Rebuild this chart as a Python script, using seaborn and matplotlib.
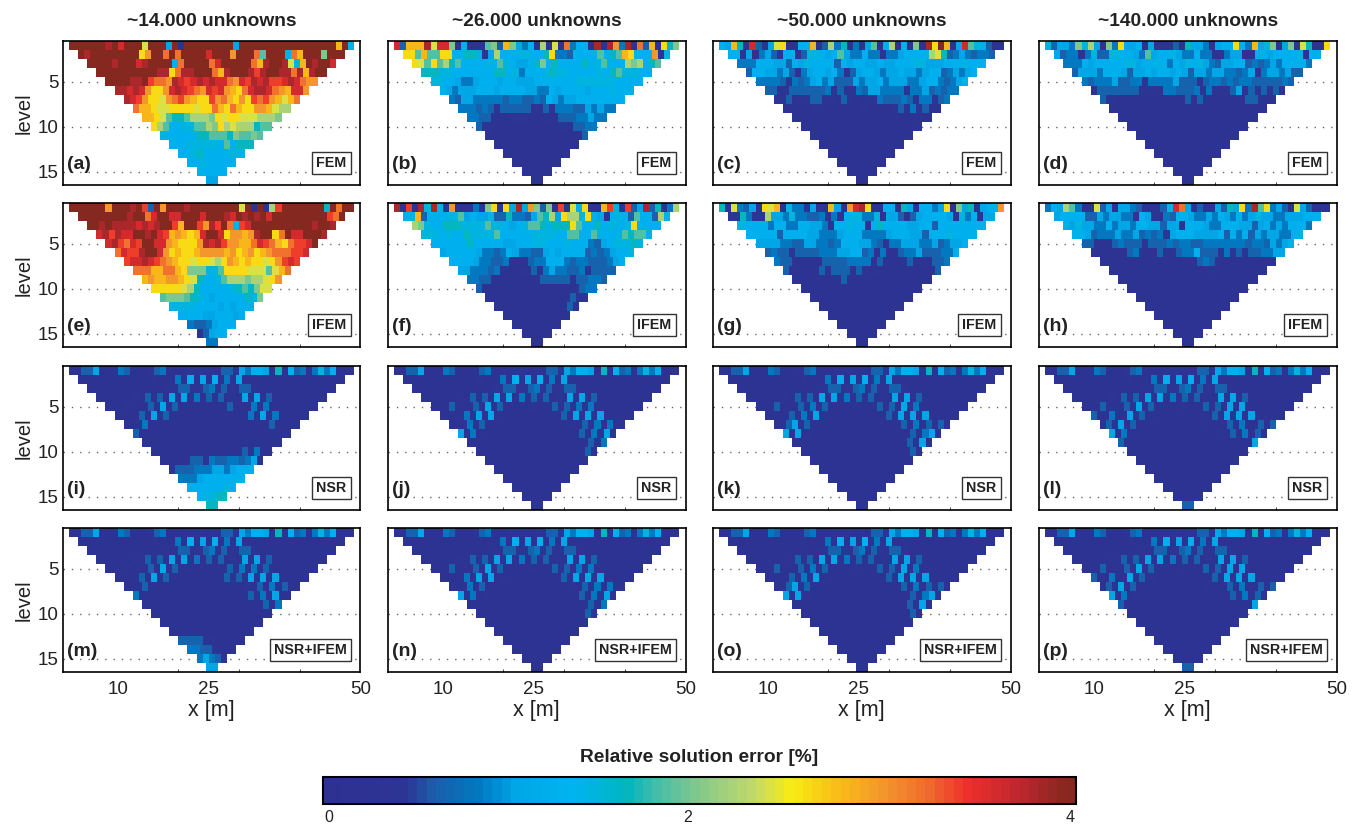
import numpy as np
import seaborn as sns
import matplotlib
matplotlib.use('Agg')
import matplotlib.pyplot as plt
from matplotlib.colors import LinearSegmentedColormap

# one character per cell, 0-9 then a-k, in steps of 0.2 % (5 = 1 %, a = 2 %, k = 4 %)
CODES = "0123456789abcdefghijk"

panel_a = [
    "kkkkkkjkikkkckkk5k1kkkkkkkk5kkkkkkkkkkkkkkkkek6",
    "kjkkkkkkkkdfkkgkgkkkkikkkfkkkg9kkk6gekkkakkk",
    "kkkkjkkkijkkkk6gkkkkgikkkkkgejkkjc7ekjkki",
    "kkkkkkkkkkjjdgjjkkkgejkkkjhjkkjjgjejkk",
    "kkkkjjkhggfjihijijiigfihjijhhijigff",
    "jjijifddfijihgfihifedgijjigfeiif",
    "jihfddcfghfeddhfgedfdhghfeceg",
    "geedccddddcddgedgeddffecbb",
    "eedc9889bbbadcddcccbbba",
    "db9667799badbcbbb899",
    "766666889998a99a9",
    "66677777696888",
    "66786666777",
    "66766666",
    "66666",
    "55",
]
panel_e = [
    "kkkkkkfkkkjkh3kfkkkjkkkkkkkkck1k1bhkkkkkkk8kgkk",
    "kkkkkkkkjkkgikkiikkkikkkjikjkjkikkkkkkkkkhgk",
    "kkjkjjjjijijkkhekkhfjhkg7hikkkkkkkkkkjkkj",
    "ijhjiikkjkihefedeikkidffefjkkdgkiikkkj",
    "ijhgihkkiifedddfjijhffeegihgedghhik",
    "gihhjkkifdeddeffffefdefdefggghhi",
    "hiijihgfeddcddcbdfededdcdfhih",
    "gggeeggedaaa779ddddccc9ceg",
    "efeeffedc86679bbbabbcdf",
    "dddddcb8666667898acc",
    "9aaa987656666687a",
    "77776666565666",
    "66665566656",
    "43345666",
    "23566",
    "44",
]
panel_i_low = [
    "11121113151311111111311141411111111",
    "11113151311111111111114151411111",
    "11141111111111111111111131111",
    "31111111111111111111111111",
    "11111111111111111111111",
    "11111111111111131411",
    "11111332433443451",
    "23334445545666",
    "44456666666",
    "66666676",
    "67788",
    "88",
]
panel_m_low = [
    "11121113151312111111314141311111111",
    "11113151311111111131315151511111",
    "11131111111111111111213141311",
    "41111111111111111113141511",
    "11111111111111111111314",
    "11111111111111111111",
    "11111111111111111",
    "11111111111111",
    "33332211111",
    "44332111",
    "45432",
    "55",
]
panel_b = [
    "i3eeejciia262219a3ea5461b2c1g4661j2jf4j1g3e1d8a",
    "dd9e99dd6688725b66677668d44366669689ed766f17",
    "dc9d9b896666769765568a6866668679666bab689",
    "88877666666688674666787766666768977766",
    "77665445666566555666666677777766666",
    "65455566656666554465666656667666",
    "43554444434433436545566666666",
    "44434323333322324443354544",
    "44331112221122133344544",
    "32211111111111213344",
    "21111111111111113",
    "11111111111111",
    "11111111111",
    "11111111",
    "11111",
    "11",
]
panel_f = [
    "j2h2j7j72f11142ad2d5j5fa3a1h2c6d21eh72h35j3814b",
    "67e366677956557338443598b5dbb7d65167639663b7",
    "ba766888777797765679986888d966867767d6666",
    "77767668777796666677776699669666698996",
    "66666686666655666776667666435677787",
    "56666654434654433565666634345667",
    "66665443341113446664344333456",
    "55444341112232454433423333",
    "44331111111233333233443",
    "31111111111111112344",
    "21111111111111322",
    "11111111111132",
    "11111111111",
    "11111111",
    "11111",
    "11",
]
panel_c = [
    "65e82i315cd1166e13b481415916b161a1jdke15i976311",
    "662514532662377656954464414456666bc834543443",
    "44466655365766663656655655666775556667666",
    "36655453245665642356654556554566345456",
    "44443243456453335455645554456643456",
    "33223333334232243554444244534344",
    "22312233221321122433343244234",
    "11111221111112111123142311",
    "11111111111111111111211",
    "11111111111111111111",
    "11111111111111111",
    "11111111111111",
    "11111111111",
    "11111111",
    "11111",
    "11",
]
panel_g = [
    "82c4351dce17441521e51fijd116618516645d1a581566f",
    "22842 2b554744334141677447155313566665174615".replace(" ", ""),
    "76666466446655426676626866665566366666666",
    "66666366665544456664444566655366676666",
    "55554433554434666554324455544534556",
    "34332333344455663414113445333446",
    "43321111333344442311123222334",
    "31111132333132121111111113",
    "11111111311111111111111",
    "11111111111111111111",
    "11111111111111111",
    "11111111111111",
    "11111111111",
    "11111111",
    "11111",
    "11",
]
panel_d = [
    "73554a7b51a4d556152123185541566d64e57a15a2c821d",
    "5344147337766549566754464412455116656666716",
    "44465666667756676465767543556634345466664",
    "35554666535565665653554554434524554533",
    "43444533442444453332344343443333343",
    "13333333222244333424222352323231",
    "31211111111111313111111133111",
    "11111111111111111111111111",
    "11111111111111111111111",
    "11111111111111111111",
    "11111111111111111",
    "11111111111111",
    "11111111111",
    "11111111",
    "11111",
    "11",
]
panel_h = [
    "465b9411c351554311137ig513115385d4j9d4531c53111",
    "5666633545544265214366544546546457554455 56".replace(" ", ""),
    "65755446455466553551666544666553564546664",
    "66534445445343425666555563646354554466",
    "33211343332333434433444444434435456",
    "21111134211312344633324231334455",
    "11111111111111113432111111111",
    "11111111111111111211111111",
    "11111111111111111111111",
    "11111111111111111111",
    "11111111111111111",
    "11111111111111",
    "11111111111",
    "11111111",
    "11111",
    "11",
]

# the first four levels look the same in all NSR panels
nsr_top = [
    "11335111431112341112221213325466518163414746111",
    "11111111111121114161516141511111111111111111",
    "11111111111112233223423223321111111111111",
    "11111121313151514131312151513111111111",
]
nsr_j = [
    "11131113151311112111313141411111111",
    "11114151512111111111315151511111",
    "11241311111111111111213141412",
    "51412111111111111111314152",
    "11111111111111111111314",
    "11111111111111111132",
    "11111111111111111",
    "11111111111111",
    "11111111111",
    "11111111",
    "11111",
]
nsr_k = [
    "11131113141311112111313151411111111",
    "11113141512111111111315151511111",
    "11351311111111111111131413131",
    "51512111111111111111131452",
    "11111111111111111113151",
    "11111111111111111131",
    "11111111111111111",
    "11111111111111",
    "11111111111",
    "11111111",
    "11111",
]
nsr_l = [
    "11131113151311112111313151511111111",
    "31141151312111111111315151511111",
    "13151311111111111211131411313",
    "51412111111111111121314131",
    "31111111111111111111115",
    "11111111111111111112",
    "11111111111111112",
    "11111111111111",
    "11111111111",
    "11111111",
    "11111",
]

panels = [
    panel_a, panel_b, panel_c, panel_d,
    panel_e, panel_f, panel_g, panel_h,
    nsr_top + panel_i_low, nsr_top + nsr_j + ["22"], nsr_top + nsr_k + ["22"], nsr_top + nsr_l + ["33"],
    nsr_top + panel_m_low, nsr_top + nsr_j + ["11"], nsr_top + nsr_k + ["22"], nsr_top + nsr_l + ["33"],
]
letters = "abcdefghijklmnop"
methods = ["FEM", "IFEM", "NSR", "NSR+IFEM"]
column_titles = ["~14.000 unknowns", "~26.000 unknowns", "~50.000 unknowns", "~140.000 unknowns"]

# colours
cbar_values = [0, 0.4, 0.55, 0.8, 1.0, 1.3, 1.6, 1.75, 2.0, 2.3, 2.5, 2.75, 3.0, 3.25, 3.47, 3.75, 4.0]
cbar_colors = ["#2e3192", "#2c3594", "#1b5ea9", "#0079c1", "#00a6e6", "#00b4f0", "#00b5c0", "#3fbcab",
               "#85c98a", "#c3d96a", "#f7ec13", "#f9bd17", "#f3962b", "#ef6b2e", "#ed2f2a", "#bd2630", "#85281f"]
vmin, vmax = -0.03, 4.03

sns.set_theme(style="white")
plt.rcParams['font.family'] = ['Liberation Sans', 'DejaVu Sans']

stops = [(0.0, cbar_colors[0])] + [((v - vmin) / (vmax - vmin), c) for v, c in zip(cbar_values, cbar_colors)] + [(1.0, cbar_colors[-1])]
cmap = LinearSegmentedColormap.from_list("err", stops, N=80)

W, H = 1354.0, 825.0
lefts = [63, 388, 713, 1039]
tops = [41, 203, 366, 528]
ax_w, ax_h = 297.5, 144

fig = plt.figure(figsize=(13.54, 8.25), dpi=100)
cax = fig.add_axes([323 / W, 1 - 804 / H, 753 / W, 27 / H])


def to_grid(rows):
    # half metre columns from x=1 to x=50, each level starts 1.5 m further in
    grid = np.full((16, 98), np.nan)
    for r, row in enumerate(rows):
        n = 47 - 3 * r
        row = row[:n].ljust(n, row[-1])
        vals = [CODES.index(c) * 0.2 for c in row]
        start = 2 + 3 * r
        grid[r, start:start + 2 * n] = np.repeat(vals, 2)
    return grid


cb = None
for i, rows in enumerate(panels):
    r, c = i // 4, i % 4
    ax = fig.add_axes([lefts[c] / W, 1 - (tops[r] + ax_h) / H, ax_w / W, ax_h / H])
    ax.hlines([4.5, 9.5, 14.5], 0, 98, colors="#666666", linestyles=(0, (1, 5)), linewidth=1, zorder=0.5)
    sns.heatmap(to_grid(rows), ax=ax, cmap=cmap, vmin=vmin, vmax=vmax, cbar=(i == 0), cbar_ax=cax if i == 0 else None,
                cbar_kws={"orientation": "horizontal"}, xticklabels=False, yticklabels=False)
    if i == 0:
        cb = ax.collections[-1].colorbar
    ax.set_xlim(0, 98)
    ax.set_ylim(16, 0)
    for s in ax.spines.values():
        s.set_visible(True)
        s.set_color("black")
        s.set_linewidth(1.2)

    # x ticks in metres, half metre columns
    ax.set_xticks([(x - 1) * 2 for x in [10, 25, 50]])
    ax.set_xticks([(x - 1) * 2 for x in [10, 20, 30, 40]], minor=True)
    ax.tick_params(axis='x', which='minor', bottom=True, direction='in', length=2, width=0.7, color="#444444")
    if r == 3:
        ax.set_xticklabels(["10", "25", "50"], fontsize=13.5, color="#222222")
        ax.tick_params(axis='x', which='major', length=0, pad=6.5)
        ax.set_xlabel("x [m]", fontsize=15.5, color="#222222", labelpad=1.5)
    else:
        ax.set_xticklabels([])
        ax.tick_params(axis='x', which='major', length=0)

    ax.set_yticks([4.5, 9.5, 14.5])
    if c == 0:
        ax.set_yticklabels(["5", "10", "15"], rotation=0, fontsize=13.5, color="#222222")
        ax.tick_params(axis='y', length=0, pad=3)
        ax.set_ylabel("level", fontsize=14.5, color="#222222", labelpad=3)
    else:
        ax.set_yticklabels([])
        ax.tick_params(axis='y', length=0)

    if r == 0:
        ax.set_title(column_titles[c], fontsize=13.8, fontweight="bold", color="#222222", pad=11)

    ax.text(0.015, 0.14, "(%s)" % letters[i], transform=ax.transAxes, fontsize=14, fontweight="bold",
            color="#222222", ha="left", va="center")
    ax.text(0.953, 0.155, methods[r], transform=ax.transAxes, fontsize=10.3, fontweight="bold", color="#222222",
            ha="right", va="center",
            bbox=dict(boxstyle="square,pad=0.28", fc="white", ec="#333333", lw=1))

cb.set_ticks([0, 1.935, 4])
cb.set_ticklabels(["0", "2", "4"])
cax.tick_params(axis='x', top=True, bottom=True, direction='in', length=5, width=0.7, color="#222222",
                labelsize=11.5, labelcolor="#222222", pad=4)
cb.outline.set_edgecolor("black")
cb.outline.set_linewidth(1.5)
fig.text(699 / W, 1 - 758 / H, "Relative solution error [%]", fontsize=13.8, fontweight="bold", color="#222222",
         ha="center", va="center")

fig.savefig("out.png", dpi=100)
